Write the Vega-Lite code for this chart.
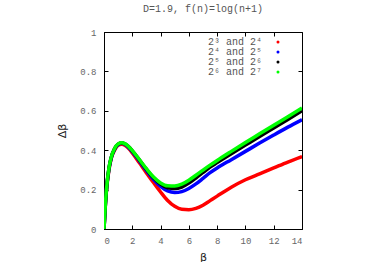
{
  "$schema": "https://vega.github.io/schema/vega-lite/v6.json",
  "width": 198,
  "height": 197,
  "autosize": {"type": "none"},
  "padding": {"left": 104, "top": 32, "right": 72, "bottom": 33},
  "background": "white",
  "title": {
    "text": "D=1.9, f(n)=log(n+1)",
    "font": "Liberation Mono",
    "fontSize": 10,
    "fontWeight": "normal",
    "color": "#555555",
    "anchor": "middle",
    "offset": 14
  },
  "config": {
    "view": {"stroke": "black", "strokeWidth": 1},
    "axis": {
      "labelFont": "Liberation Mono",
      "labelFontSize": 9,
      "labelColor": "#666666",
      "titleFont": "DejaVu Sans",
      "titleFontSize": 11,
      "titleFontWeight": "normal",
      "titleColor": "#222222",
      "domainColor": "black",
      "tickColor": "black",
      "tickSize": -4,
      "grid": false
    }
  },
  "data": {
    "values": [
      {"b":0,"d":0,"s":"2³ and 2⁴"},{"b":0.1,"d":0.125,"s":"2³ and 2⁴"},{"b":0.2,"d":0.215,"s":"2³ and 2⁴"},{"b":0.35,"d":0.3,"s":"2³ and 2⁴"},{"b":0.5,"d":0.355,"s":"2³ and 2⁴"},{"b":0.75,"d":0.4,"s":"2³ and 2⁴"},{"b":1,"d":0.425,"s":"2³ and 2⁴"},{"b":1.25,"d":0.43,"s":"2³ and 2⁴"},{"b":1.5,"d":0.424,"s":"2³ and 2⁴"},{"b":1.75,"d":0.408,"s":"2³ and 2⁴"},{"b":2,"d":0.386,"s":"2³ and 2⁴"},{"b":2.5,"d":0.336,"s":"2³ and 2⁴"},{"b":3,"d":0.285,"s":"2³ and 2⁴"},{"b":3.5,"d":0.236,"s":"2³ and 2⁴"},{"b":4,"d":0.188,"s":"2³ and 2⁴"},{"b":4.5,"d":0.145,"s":"2³ and 2⁴"},{"b":5,"d":0.115,"s":"2³ and 2⁴"},{"b":5.5,"d":0.1,"s":"2³ and 2⁴"},{"b":6,"d":0.098,"s":"2³ and 2⁴"},{"b":6.5,"d":0.105,"s":"2³ and 2⁴"},{"b":7,"d":0.121,"s":"2³ and 2⁴"},{"b":7.5,"d":0.144,"s":"2³ and 2⁴"},{"b":8,"d":0.167,"s":"2³ and 2⁴"},{"b":9,"d":0.212,"s":"2³ and 2⁴"},{"b":10,"d":0.25,"s":"2³ and 2⁴"},{"b":11,"d":0.28,"s":"2³ and 2⁴"},{"b":12,"d":0.31,"s":"2³ and 2⁴"},{"b":13,"d":0.34,"s":"2³ and 2⁴"},{"b":14,"d":0.368,"s":"2³ and 2⁴"},
      {"b":0,"d":0,"s":"2⁴ and 2⁵"},{"b":0.1,"d":0.128,"s":"2⁴ and 2⁵"},{"b":0.2,"d":0.218,"s":"2⁴ and 2⁵"},{"b":0.35,"d":0.305,"s":"2⁴ and 2⁵"},{"b":0.5,"d":0.358,"s":"2⁴ and 2⁵"},{"b":0.75,"d":0.405,"s":"2⁴ and 2⁵"},{"b":1,"d":0.429,"s":"2⁴ and 2⁵"},{"b":1.25,"d":0.435,"s":"2⁴ and 2⁵"},{"b":1.5,"d":0.429,"s":"2⁴ and 2⁵"},{"b":1.75,"d":0.414,"s":"2⁴ and 2⁵"},{"b":2,"d":0.393,"s":"2⁴ and 2⁵"},{"b":2.5,"d":0.346,"s":"2⁴ and 2⁵"},{"b":3,"d":0.297,"s":"2⁴ and 2⁵"},{"b":3.5,"d":0.252,"s":"2⁴ and 2⁵"},{"b":4,"d":0.216,"s":"2⁴ and 2⁵"},{"b":4.5,"d":0.193,"s":"2⁴ and 2⁵"},{"b":5,"d":0.185,"s":"2⁴ and 2⁵"},{"b":5.5,"d":0.19,"s":"2⁴ and 2⁵"},{"b":6,"d":0.206,"s":"2⁴ and 2⁵"},{"b":6.5,"d":0.229,"s":"2⁴ and 2⁵"},{"b":7,"d":0.257,"s":"2⁴ and 2⁵"},{"b":7.5,"d":0.286,"s":"2⁴ and 2⁵"},{"b":8,"d":0.31,"s":"2⁴ and 2⁵"},{"b":9,"d":0.352,"s":"2⁴ and 2⁵"},{"b":10,"d":0.394,"s":"2⁴ and 2⁵"},{"b":11,"d":0.436,"s":"2⁴ and 2⁵"},{"b":12,"d":0.477,"s":"2⁴ and 2⁵"},{"b":13,"d":0.517,"s":"2⁴ and 2⁵"},{"b":14,"d":0.555,"s":"2⁴ and 2⁵"},
      {"b":0,"d":0,"s":"2⁵ and 2⁶"},{"b":0.1,"d":0.13,"s":"2⁵ and 2⁶"},{"b":0.2,"d":0.22,"s":"2⁵ and 2⁶"},{"b":0.35,"d":0.308,"s":"2⁵ and 2⁶"},{"b":0.5,"d":0.36,"s":"2⁵ and 2⁶"},{"b":0.75,"d":0.408,"s":"2⁵ and 2⁶"},{"b":1,"d":0.431,"s":"2⁵ and 2⁶"},{"b":1.25,"d":0.437,"s":"2⁵ and 2⁶"},{"b":1.5,"d":0.431,"s":"2⁵ and 2⁶"},{"b":1.75,"d":0.417,"s":"2⁵ and 2⁶"},{"b":2,"d":0.397,"s":"2⁵ and 2⁶"},{"b":2.5,"d":0.351,"s":"2⁵ and 2⁶"},{"b":3,"d":0.303,"s":"2⁵ and 2⁶"},{"b":3.5,"d":0.26,"s":"2⁵ and 2⁶"},{"b":4,"d":0.228,"s":"2⁵ and 2⁶"},{"b":4.5,"d":0.209,"s":"2⁵ and 2⁶"},{"b":5,"d":0.205,"s":"2⁵ and 2⁶"},{"b":5.5,"d":0.213,"s":"2⁵ and 2⁶"},{"b":6,"d":0.233,"s":"2⁵ and 2⁶"},{"b":6.5,"d":0.259,"s":"2⁵ and 2⁶"},{"b":7,"d":0.287,"s":"2⁵ and 2⁶"},{"b":7.5,"d":0.314,"s":"2⁵ and 2⁶"},{"b":8,"d":0.337,"s":"2⁵ and 2⁶"},{"b":9,"d":0.382,"s":"2⁵ and 2⁶"},{"b":10,"d":0.426,"s":"2⁵ and 2⁶"},{"b":11,"d":0.47,"s":"2⁵ and 2⁶"},{"b":12,"d":0.513,"s":"2⁵ and 2⁶"},{"b":13,"d":0.556,"s":"2⁵ and 2⁶"},{"b":14,"d":0.6,"s":"2⁵ and 2⁶"},
      {"b":0,"d":0,"s":"2⁶ and 2⁷"},{"b":0.1,"d":0.13,"s":"2⁶ and 2⁷"},{"b":0.2,"d":0.22,"s":"2⁶ and 2⁷"},{"b":0.35,"d":0.309,"s":"2⁶ and 2⁷"},{"b":0.5,"d":0.361,"s":"2⁶ and 2⁷"},{"b":0.75,"d":0.409,"s":"2⁶ and 2⁷"},{"b":1,"d":0.432,"s":"2⁶ and 2⁷"},{"b":1.25,"d":0.438,"s":"2⁶ and 2⁷"},{"b":1.5,"d":0.432,"s":"2⁶ and 2⁷"},{"b":1.75,"d":0.418,"s":"2⁶ and 2⁷"},{"b":2,"d":0.398,"s":"2⁶ and 2⁷"},{"b":2.5,"d":0.353,"s":"2⁶ and 2⁷"},{"b":3,"d":0.306,"s":"2⁶ and 2⁷"},{"b":3.5,"d":0.264,"s":"2⁶ and 2⁷"},{"b":4,"d":0.234,"s":"2⁶ and 2⁷"},{"b":4.5,"d":0.219,"s":"2⁶ and 2⁷"},{"b":5,"d":0.218,"s":"2⁶ and 2⁷"},{"b":5.5,"d":0.228,"s":"2⁶ and 2⁷"},{"b":6,"d":0.248,"s":"2⁶ and 2⁷"},{"b":6.5,"d":0.273,"s":"2⁶ and 2⁷"},{"b":7,"d":0.299,"s":"2⁶ and 2⁷"},{"b":7.5,"d":0.324,"s":"2⁶ and 2⁷"},{"b":8,"d":0.348,"s":"2⁶ and 2⁷"},{"b":9,"d":0.394,"s":"2⁶ and 2⁷"},{"b":10,"d":0.439,"s":"2⁶ and 2⁷"},{"b":11,"d":0.483,"s":"2⁶ and 2⁷"},{"b":12,"d":0.527,"s":"2⁶ and 2⁷"},{"b":13,"d":0.57,"s":"2⁶ and 2⁷"},{"b":14,"d":0.614,"s":"2⁶ and 2⁷"}
    ]
  },
  "layer": [
    {
      "mark": {"type": "line", "strokeWidth": 3.5, "interpolate": "monotone", "clip": true},
      "encoding": {
        "x": {
          "field": "b", "type": "quantitative",
          "scale": {"domain": [0, 14], "nice": false},
          "axis": {"orient": "bottom", "title": "β", "values": [0,2,4,6,8,10,12,14], "labelPadding": 11, "titlePadding": 6}
        },
        "y": {
          "field": "d", "type": "quantitative",
          "scale": {"domain": [0, 1], "nice": false},
          "axis": {"orient": "left", "title": "Δβ", "values": [0,0.2,0.4,0.6,0.8,1], "format": "~g", "labelPadding": 12, "titlePadding": 12}
        },
        "color": {
          "field": "s", "type": "nominal",
          "scale": {"domain": ["2³ and 2⁴","2⁴ and 2⁵","2⁵ and 2⁶","2⁶ and 2⁷"], "range": ["#ff0000","#0000ff","#000000","#00ff00"]},
          "legend": {
            "title": null,
            "orient": "none",
            "legendX": 169,
            "legendY": 5,
            "padding": 0,
            "labelAlign": "right",
            "labelOffset": -21,
            "labelFont": "Liberation Mono",
            "labelFontSize": 10,
            "labelColor": "#555555",
            "symbolType": "circle",
            "symbolSize": 2,
            "symbolStrokeWidth": 1.6,
            "rowPadding": 0
          }
        }
      }
    },
    {
      "mark": {"type": "line", "opacity": 0},
      "encoding": {
        "x": {"field": "b", "type": "quantitative", "scale": {"domain": [0, 14], "nice": false},
          "axis": {"orient": "top", "title": null, "labels": false, "domain": false, "values": [0,2,4,6,8,10,12,14]}},
        "y": {"field": "d", "type": "quantitative", "scale": {"domain": [0, 1], "nice": false},
          "axis": {"orient": "right", "title": null, "labels": false, "domain": false, "values": [0,0.2,0.4,0.6,0.8,1]}},
        "detail": {"field": "s"}
      }
    }
  ],
  "resolve": {"axis": {"x": "independent", "y": "independent"}}
}
